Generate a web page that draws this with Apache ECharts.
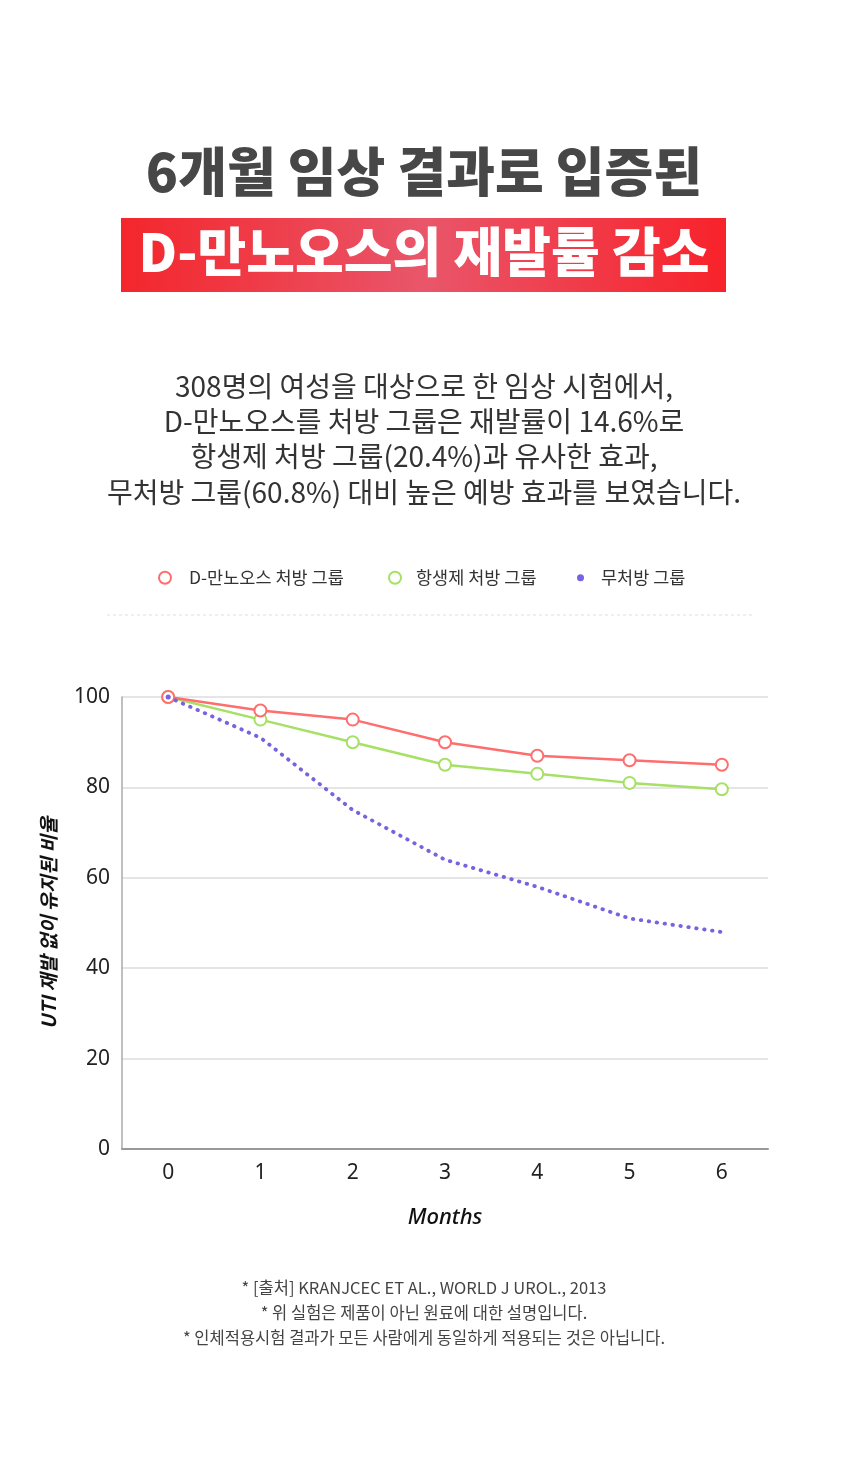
<!DOCTYPE html>
<html><head><meta charset="utf-8">
<script src="https://cdn.jsdelivr.net/npm/echarts@6/dist/echarts.min.js"></script>
<style>html,body{margin:0;padding:0;background:#fff}#c{width:848px;height:1483px}</style>
</head><body><div id="c"></div>
<script>
const months = ['0','1','2','3','4','5','6'];
const seriesNames = ['D-만노오스 처방 그룹','항생제 처방 그룹','무처방 그룹'];
const mannoseValues = [100, 97, 95, 90, 87, 86, 85];
const antibioticValues = [100, 95, 90, 85, 83, 81, 79.6];
const noTreatmentValues = [100, 91, 75, 64, 58, 51, 48];
const yTicks = [0, 20, 40, 60, 80, 100];
const titleLine1 = '6개월 임상 결과로 입증된';
const titleLine2 = 'D-만노오스의 재발률 감소';
const bodyLines = ['308명의 여성을 대상으로 한 임상 시험에서,','D-만노오스를 처방 그룹은 재발률이 14.6%로','항생제 처방 그룹(20.4%)과 유사한 효과,','무처방 그룹(60.8%) 대비 높은 예방 효과를 보였습니다.'];
const noteLines = ['* [출처] KRANJCEC ET AL., WORLD J UROL., 2013','* 위 실험은 제품이 아닌 원료에 대한 설명입니다.','* 인체적용시험 결과가 모든 사람에게 동일하게 적용되는 것은 아닙니다.'];

const RED = '#ff6e6e', GREEN = '#a6e065', PURPLE = '#7762e0';
const KR = "'Noto Sans CJK KR','Noto Sans',sans-serif";
const chart = echarts.init(document.getElementById('c'), null, {renderer:'canvas'});

const graphics = [
  {type:'text', left:'center', top:145, style:{text:titleLine1, font:"900 53px "+KR, fill:'#474747'}},
  {type:'rect', shape:{x:121, y:218, width:605, height:74}, style:{fill:{type:'linear',x:0,y:0,x2:1,y2:0,colorStops:[{offset:0,color:'#f4262c'},{offset:0.5,color:'#e9566a'},{offset:1,color:'#f8222a'}]}}},
  {type:'text', left:'center', top:225, style:{text:titleLine2, font:"900 53px "+KR, fill:'#ffffff'}},
  {type:'line', shape:{x1:107,y1:615,x2:755,y2:615}, style:{stroke:'#dddddd', lineWidth:1, lineDash:[3,3]}}
];
bodyLines.forEach((t,i)=>graphics.push({type:'text', left:'center', top:372+i*35.3, style:{text:t, font:"400 28px "+KR, fill:'#333333'}}));
noteLines.forEach((t,i)=>graphics.push({type:'text', left:'center', top:1279+i*25, style:{text:t, font:"400 16.5px "+KR, fill:'#444444'}}));

function legendFor(idx, left, icon, size, color, border, pad){
  return {
    left:left, top:564, icon:icon, itemWidth:size, itemHeight:size,
    data:[{name:seriesNames[idx], itemStyle: border ? {color:'#fff', borderColor:color, borderWidth:2} : {color:color, borderWidth:0}}],
    textStyle:{fontSize:17.5, color:'#333', fontFamily:KR, padding:[0,0,0,pad]},
    selectedMode:false
  };
}

chart.setOption({
  backgroundColor:'#fff',
  animation:false,
  legend:[
    legendFor(0, 153, 'circle', 12, RED, true, 13),
    legendFor(1, 383, 'circle', 12, GREEN, true, 10),
    legendFor(2, 572, 'circle', 7, PURPLE, false, 12)
  ],
  graphic: graphics,
  grid:{left:122, right:80, top:697, bottom:334},
  xAxis:{
    type:'category', data:months, boundaryGap:true,
    name:'Months', nameLocation:'middle', nameGap:58,
    nameTextStyle:{fontSize:22, fontStyle:'italic', fontWeight:500, color:'#111', fontFamily:"'Noto Sans',sans-serif"},
    axisLine:{lineStyle:{color:'#999', width:2}},
    axisTick:{show:false},
    axisLabel:{fontSize:21, color:'#222', margin:14, fontFamily:"'Noto Sans',sans-serif"}
  },
  yAxis:{
    type:'value', min:yTicks[0], max:yTicks[yTicks.length-1], interval:20,
    name:'UTI 재발 없이 유지된 비율', nameLocation:'middle', nameGap:64, nameRotate:90,
    nameTextStyle:{fontSize:19.5, fontStyle:'italic', fontWeight:700, color:'#111', fontFamily:KR},
    axisLine:{show:true, lineStyle:{color:'#aaa', width:1.5}},
    axisTick:{show:false},
    splitLine:{lineStyle:{color:'#dddddd', width:1.5}},
    axisLabel:{fontSize:21, color:'#222', margin:12, fontFamily:"'Noto Sans',sans-serif"}
  },
  series:[
    {name:seriesNames[2], type:'line', data:noTreatmentValues, z:5, symbol:'circle',
     symbolSize:function(v, p){ return p.dataIndex === 0 ? 5 : 0; },
     itemStyle:{color:PURPLE}, lineStyle:{color:PURPLE, width:3.8, type:[0.5,7.5], cap:'round'}},
    {name:seriesNames[1], type:'line', data:antibioticValues, z:2, symbol:'circle', symbolSize:12,
     itemStyle:{color:'#fff', borderColor:GREEN, borderWidth:2}, lineStyle:{color:GREEN, width:2.5}},
    {name:seriesNames[0], type:'line', data:mannoseValues, z:4, symbol:'circle', symbolSize:12,
     itemStyle:{color:'#fff', borderColor:RED, borderWidth:2}, lineStyle:{color:RED, width:2.5}}
  ]
});
</script></body></html>
